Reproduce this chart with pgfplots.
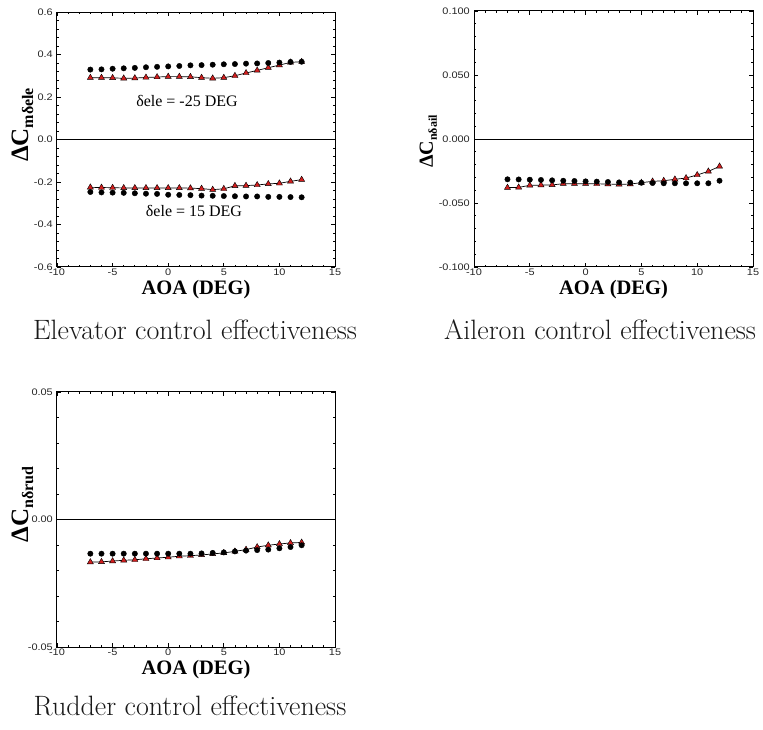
\documentclass[border=0pt]{standalone}
\usepackage{fontspec}
\usepackage{pgfplots}
\usepackage{pgfplotstable}
\pgfplotsset{compat=1.18}
\newfontfamily\arialf[FakeStretch=1.15]{Liberation Sans}
\newfontfamily\tnr{Liberation Serif}
\definecolor{trired}{RGB}{210,30,30}

\pgfplotstableread{
x cu tu cl tl
-7 0.329 0.291 -0.247 -0.225
-6 0.330 0.291 -0.249 -0.226
-5 0.333 0.290 -0.250 -0.227
-4 0.335 0.288 -0.251 -0.228
-3 0.337 0.289 -0.253 -0.228
-2 0.340 0.292 -0.255 -0.228
-1 0.342 0.294 -0.256 -0.228
0 0.344 0.296 -0.260 -0.228
1 0.346 0.296 -0.261 -0.228
2 0.349 0.295 -0.262 -0.229
3 0.350 0.291 -0.264 -0.231
4 0.352 0.288 -0.265 -0.236
5 0.354 0.291 -0.266 -0.232
6 0.355 0.300 -0.267 -0.218
7 0.357 0.313 -0.268 -0.217
8 0.358 0.325 -0.268 -0.214
9 0.360 0.338 -0.270 -0.209
10 0.362 0.350 -0.270 -0.206
11 0.365 0.363 -0.271 -0.197
12 0.366 0.366 -0.272 -0.189
}\eletab

\pgfplotstableread{
x c t
-7 -0.0315 -0.0380
-6 -0.0316 -0.0378
-5 -0.0318 -0.0362
-4 -0.0320 -0.0360
-3 -0.0323 -0.0359
-2 -0.0326 -0.0349
-1 -0.0328 -0.0349
0 -0.0331 -0.0349
1 -0.0333 -0.0350
2 -0.0336 -0.0352
3 -0.0339 -0.0354
4 -0.0341 -0.0352
5 -0.0342 -0.0341
6 -0.0344 -0.0331
7 -0.0346 -0.0326
8 -0.0346 -0.0315
9 -0.0346 -0.0305
10 -0.0346 -0.0281
11 -0.0346 -0.0253
12 -0.0326 -0.0214
}\ailtab

\pgfplotstableread{
x c t
-7 -0.0134 -0.0167
-6 -0.0134 -0.0166
-5 -0.0134 -0.0163
-4 -0.0134 -0.0160
-3 -0.0134 -0.0158
-2 -0.0134 -0.0154
-1 -0.0134 -0.0151
0 -0.0134 -0.0148
1 -0.0134 -0.0144
2 -0.0134 -0.0142
3 -0.0133 -0.0139
4 -0.0131 -0.0135
5 -0.0129 -0.0131
6 -0.0125 -0.0125
7 -0.0122 -0.0118
8 -0.0120 -0.0108
9 -0.0118 -0.0101
10 -0.0113 -0.0096
11 -0.0108 -0.0092
12 -0.0101 -0.0090
}\rudtab

\pgfplotsset{
  cstyle/.style={
    scale only axis, anchor=south west,
    xmin=-10, xmax=15, xtick={-10,-5,...,15},
    minor x tick num=4, minor y tick num=4,
    scaled y ticks=false,
    tick align=inside,
    major tick length=4pt, minor tick length=2.4pt,
    every tick/.style={black, line width=0.8pt},
    axis line style={black, line width=1pt},
    ticklabel style={font=\arialf\fontsize{9.5}{10}\selectfont, text=black!85},
    xticklabel style={inner sep=2pt},
    yticklabel style={inner sep=4pt},
    /pgf/number format/assume math mode=true,
    xlabel={AOA (DEG)},
    xlabel style={font=\tnr\bfseries\fontsize{20.5}{21}\selectfont, at={(axis description cs:0.5,0)}, anchor=base, yshift=-27.5pt},
    ylabel style={anchor=base, rotate=0},
  },
  tri/.style={black, line width=0.7pt, mark=triangle*, mark size=3.5pt, mark options={fill=trired, draw=black, line width=0.4pt}},
  circ/.style={only marks, mark=*, mark size=2.7pt, black},
}

\begin{document}
\begin{tikzpicture}
\path[use as bounding box] (0,0) rectangle (763pt,729pt);

% Elevator
\begin{axis}[cstyle, at={(57pt,462pt)}, width=278pt, height=255pt,
  ymin=-0.6, ymax=0.6, ytick={-0.6,-0.4,...,0.61},
  yticklabel style={/pgf/number format/fixed, /pgf/number format/fixed zerofill, /pgf/number format/precision=1},
  ylabel={\tnr\bfseries\fontsize{25}{25}\selectfont ΔC\raisebox{-5pt}{\fontsize{16}{16}\selectfont mδele}},
  ylabel style={at={(axis description cs:-0.104,0.557)}},
]
\addplot[black, line width=0.8pt] coordinates {(-10,0) (15,0)};
\addplot[tri] table[x=x,y=tu] {\eletab};
\addplot[tri] table[x=x,y=tl] {\eletab};
\addplot[circ] table[x=x,y=cu] {\eletab};
\addplot[circ] table[x=x,y=cl] {\eletab};
\node[font=\tnr\fontsize{16}{16}\selectfont] at (axis cs:1.69,0.181) {δele = -25 DEG};
\node[font=\tnr\fontsize{16}{16}\selectfont] at (axis cs:2.32,-0.336) {δele = 15 DEG};
\end{axis}

% Aileron
\begin{axis}[cstyle, at={(474pt,462pt)}, width=279pt, height=256pt,
  ymin=-0.1, ymax=0.1, ytick={-0.1,-0.05,0,0.05,0.1},
  yticklabel style={/pgf/number format/fixed, /pgf/number format/fixed zerofill, /pgf/number format/precision=3},
  ylabel={\tnr\bfseries\fontsize{20}{20}\selectfont ΔC\raisebox{-4pt}{\fontsize{12}{12}\selectfont nδail}},
  ylabel style={at={(axis description cs:-0.147,0.49)}},
]
\addplot[black, line width=0.8pt] coordinates {(-10,0) (15,0)};
\addplot[tri] table[x=x,y=t] {\ailtab};
\addplot[circ] table[x=x,y=c] {\ailtab};
\end{axis}

% Rudder
\begin{axis}[cstyle, at={(57pt,82pt)}, width=278pt, height=255pt,
  ymin=-0.05, ymax=0.05, ytick={-0.05,0,0.05},
  yticklabel style={/pgf/number format/fixed, /pgf/number format/fixed zerofill, /pgf/number format/precision=2},
  ylabel={\tnr\bfseries\fontsize{25}{25}\selectfont ΔC\raisebox{-5pt}{\fontsize{16}{16}\selectfont nδrud}},
  ylabel style={at={(axis description cs:-0.104,0.56)}},
]
\addplot[black, line width=0.8pt] coordinates {(-10,0) (15,0)};
\addplot[tri] table[x=x,y=t] {\rudtab};
\addplot[circ] table[x=x,y=c] {\rudtab};
\end{axis}

\node[anchor=base, font=\fontsize{28}{30}\selectfont, text=black!90] at (195pt,389pt) {Elevator control effectiveness};
\node[anchor=base, font=\fontsize{28}{30}\selectfont, text=black!90] at (600pt,389pt) {Aileron control effectiveness};
\node[anchor=base, font=\fontsize{28}{30}\selectfont, text=black!90] at (190pt,14pt) {Rudder control effectiveness};
\end{tikzpicture}
\end{document}
